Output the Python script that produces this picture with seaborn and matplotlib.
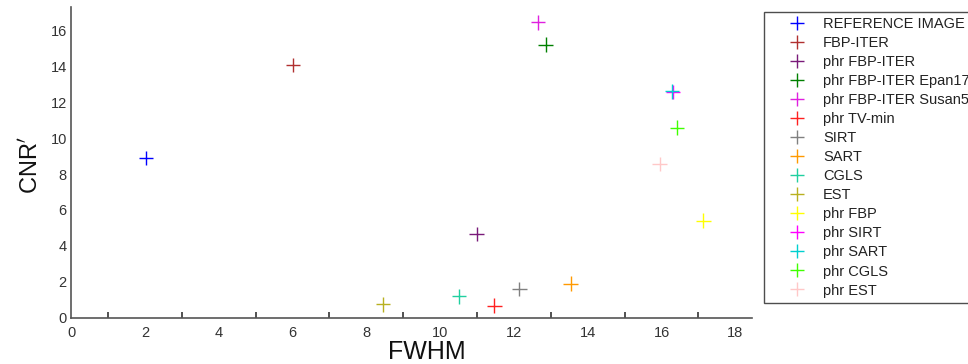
import matplotlib
matplotlib.use("Agg")
import matplotlib.pyplot as plt
import seaborn as sns
import pandas as pd
from matplotlib.lines import Line2D
from matplotlib.ticker import MultipleLocator

methods = ["REFERENCE IMAGE", "FBP-ITER", "phr FBP-ITER", "phr FBP-ITER Epan17",
           "phr FBP-ITER Susan5", "phr TV-min", "SIRT", "SART", "CGLS", "EST",
           "phr FBP", "phr SIRT", "phr SART", "phr CGLS", "phr EST"]
fwhm = [2.03, 6.01, 10.99, 12.86, 12.65, 11.47, 12.15, 13.54, 10.51, 8.45,
        17.13, 16.31, 16.28, 16.42, 15.95]
cnr = [8.9, 14.08, 4.65, 15.2, 16.44, 0.67, 1.6, 1.9, 1.19, 0.75,
       5.41, 12.56, 12.6, 10.59, 8.55]
colors = ["#0000ff", "#b03030", "#7a1a7a", "#008000", "#e020e0", "#ff2020",
          "#808080", "#ff9900", "#20d0a0", "#b8b020", "#ffff00", "#ff00ff",
          "#00d0d0", "#40ff00", "#ffc8c8"]

df = pd.DataFrame({"method": methods, "FWHM": fwhm, "CNR": cnr})
palette = dict(zip(methods, colors))

sns.set_style("white")
plt.rcParams["font.family"] = ["Liberation Sans", "DejaVu Sans"]

fig = plt.figure(figsize=(9.68, 3.64), dpi=100)
ax = fig.add_axes([71/968, 1-317.7/364, (752-71)/968, (317.7-7)/364])

sns.scatterplot(data=df, x="FWHM", y="CNR", hue="method", palette=palette,
                marker="+", s=110, linewidth=1.0, legend=False, ax=ax)

ax.set_xlim(0, 18.45)
ax.set_ylim(0, 17.3)
ax.xaxis.set_major_locator(MultipleLocator(2))
ax.xaxis.set_minor_locator(MultipleLocator(1))
ax.yaxis.set_major_locator(MultipleLocator(2))
for s in ["top", "right"]:
    ax.spines[s].set_visible(False)
for s in ["left", "bottom"]:
    ax.spines[s].set_color("#555555")
    ax.spines[s].set_linewidth(1.2)
ax.tick_params(axis="both", which="major", direction="in", length=7, width=1.1,
               color="#222222", labelsize=10.5, labelcolor="#333333")
ax.tick_params(axis="x", which="major", pad=6)
ax.tick_params(axis="y", which="major", pad=3)
ax.tick_params(axis="x", which="minor", direction="in", length=4, width=1.1,
               color="#222222", bottom=True)
ax.set_xlabel("")
ax.set_ylabel("")
fig.text(427/968, 1-352/364, "FWHM", ha="center", va="center", fontsize=18, color="#111111")
fig.text(31/968, 1-165/364, "CNR$^{\\mathbf{\\prime}}$", ha="center", va="center",
         rotation=90, fontsize=17, color="#111111")

handles = [Line2D([], [], marker="+", linestyle="none", color=c, markersize=10.5,
                  markeredgewidth=1.0) for c in colors]
leg = fig.legend(handles, methods, loc="upper left",
                 bbox_to_anchor=(764/968, 1-12/364, 215/968, 0.0), mode="expand",
                 fontsize=10.5, frameon=True, fancybox=False, borderaxespad=0,
                 labelspacing=0.345, handlelength=3.8, handletextpad=-0.1,
                 borderpad=0.35)
leg.get_frame().set_edgecolor("#222222")
leg.get_frame().set_linewidth(1.0)
for t in leg.get_texts():
    t.set_color("#222222")

fig.savefig("out.png", dpi=100)
